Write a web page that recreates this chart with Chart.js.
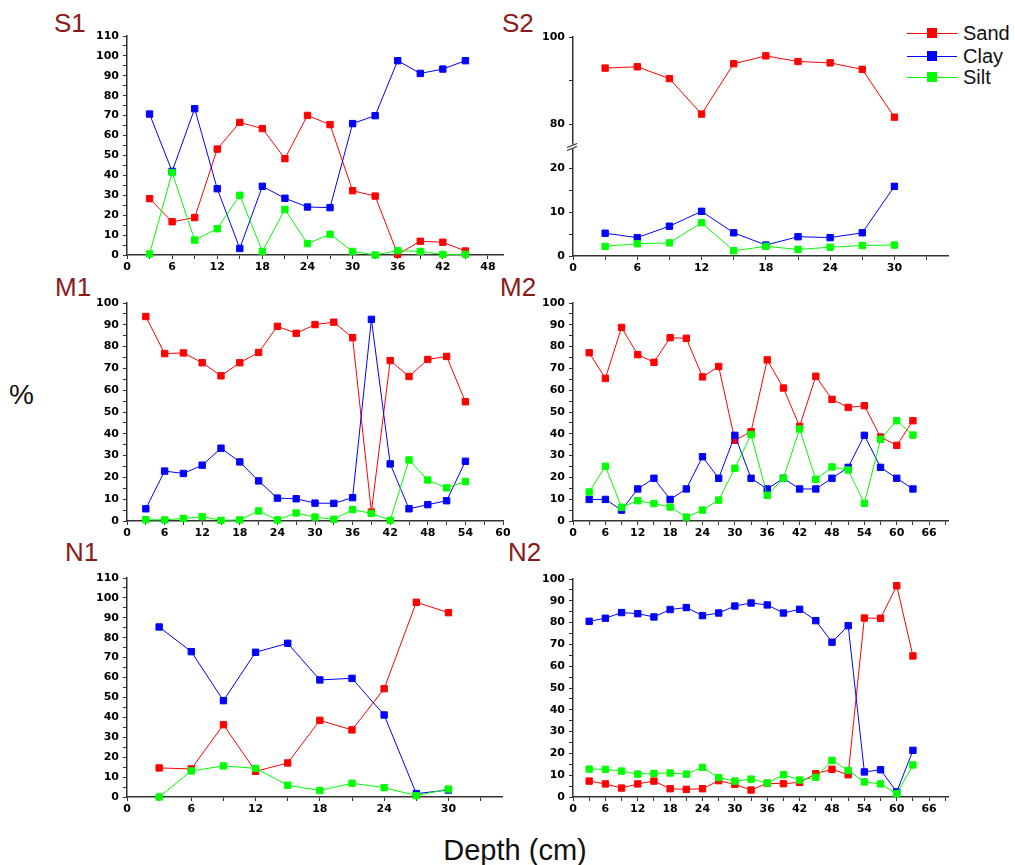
<!DOCTYPE html>
<html>
<head>
<meta charset="utf-8">
<script src="https://cdn.jsdelivr.net/npm/chart.js@4.4.1/dist/chart.umd.min.js"></script>
<style>
html,body{margin:0;padding:0;background:#fff;width:1015px;height:865px;overflow:hidden;position:relative;}
canvas{position:absolute;}
.ttl{position:absolute;font-family:"Liberation Sans",Arial,sans-serif;font-size:26px;line-height:26px;color:#8b1a1a;white-space:nowrap;}
.lab{position:absolute;font-family:"Liberation Sans",Arial,sans-serif;color:#111;white-space:nowrap;}
.lg{position:absolute;display:flex;align-items:center;height:20px;font-family:"Liberation Sans",Arial,sans-serif;font-size:20px;line-height:20px;color:#111;}
.lg .ln{position:relative;width:50px;height:1px;margin-right:6px;}
.lg .sq{position:absolute;left:20px;top:-5px;width:10px;height:10px;}
</style>
</head>
<body>
<div class="ttl" style="left:54px;top:10px;">S1</div>
<div class="ttl" style="left:502px;top:10px;">S2</div>
<div class="ttl" style="left:55px;top:274px;">M1</div>
<div class="ttl" style="left:500px;top:274px;">M2</div>
<div class="ttl" style="left:65px;top:539px;">N1</div>
<div class="ttl" style="left:508px;top:539px;">N2</div>
<div class="lab" style="left:9px;top:381px;font-size:28px;line-height:28px;">%</div>
<div class="lab" style="left:515px;top:836px;font-size:29px;line-height:29px;transform:translateX(-50%);">Depth (cm)</div>
<div id="legend"></div>

<canvas id="cS1"></canvas>
<canvas id="cS2"></canvas>
<canvas id="cM1"></canvas>
<canvas id="cM2"></canvas>
<canvas id="cN1"></canvas>
<canvas id="cN2"></canvas>

<script>
// ---- series definitions ----
const seriesNames = ['Sand', 'Clay', 'Silt'];
const seriesColors = ['#ff0000', '#0000ff', '#00ff00'];

// ---- S1 ----
const s1Depth = [3, 6, 9, 12, 15, 18, 21, 24, 27, 30, 33, 36, 39, 42, 45];
const s1Sand = [28.3, 16.7, 18.8, 53.2, 66.6, 63.5, 48.4, 70.1, 65.5, 32.3, 29.6, 0.3, 6.9, 6.4, 2.0];
const s1Clay = [70.8, 42.0, 73.5, 33.3, 3.3, 34.5, 28.5, 24.1, 23.8, 66.0, 70.0, 97.6, 91.2, 93.4, 97.6];
const s1Silt = [0.5, 41.4, 7.5, 13.2, 30.0, 1.8, 22.9, 5.7, 10.4, 1.8, 0.0, 2.2, 1.8, 0.3, 0.3];

// ---- S2 ----
const s2Depth = [3, 6, 9, 12, 15, 18, 21, 24, 27, 30];
const s2Sand = [92.9, 93.2, 90.5, 82.4, 93.9, 95.7, 94.4, 94.1, 92.6, 81.7];
const s2Clay = [5.2, 4.2, 6.8, 10.2, 5.3, 2.5, 4.4, 4.2, 5.3, 15.9];
const s2Silt = [2.2, 2.8, 3.0, 7.6, 1.2, 2.2, 1.5, 2.0, 2.4, 2.5];

// ---- M1 ----
const m1Depth = [3, 6, 9, 12, 15, 18, 21, 24, 27, 30, 33, 36, 39, 42, 45, 48, 51, 54];
const m1Sand = [93.8, 76.8, 77.1, 72.6, 66.6, 72.6, 77.3, 89.3, 86.1, 90.1, 91.2, 84.1, 4.1, 73.6, 66.3, 74.1, 75.5, 54.7];
const m1Clay = [5.6, 22.9, 21.8, 25.6, 33.4, 27.1, 18.4, 10.5, 10.2, 8.2, 8.1, 10.7, 92.5, 26.2, 5.6, 7.5, 9.3, 27.4];
const m1Silt = [0.6, 0.5, 1.2, 2.0, 0.3, 0.5, 4.6, 0.5, 3.7, 1.8, 0.8, 5.2, 3.5, 0.3, 28.0, 18.8, 15.2, 18.1];

// ---- M2 ----
const m2Depth = [3, 6, 9, 12, 15, 18, 21, 24, 27, 30, 33, 36, 39, 42, 45, 48, 51, 54, 57, 60, 63];
const m2Sand = [77.2, 65.4, 88.8, 76.3, 72.8, 84.1, 83.8, 66.1, 70.9, 37.0, 41.0, 73.9, 61.0, 43.4, 66.4, 55.8, 52.1, 52.9, 38.5, 34.7, 46.0];
const m2Clay = [9.9, 9.9, 5.0, 14.7, 19.6, 9.9, 14.7, 29.5, 19.6, 39.3, 19.6, 14.7, 19.6, 14.7, 14.7, 19.6, 24.6, 39.3, 24.6, 19.6, 14.7];
const m2Silt = [13.3, 25.1, 6.3, 9.3, 8.0, 6.4, 1.8, 5.0, 9.6, 24.2, 39.6, 11.8, 19.6, 42.2, 19.1, 24.8, 23.4, 8.1, 37.5, 46.0, 39.4];

// ---- N1 ----
const n1Depth = [3, 6, 9, 12, 15, 18, 21, 24, 27, 30];
const n1Sand = [14.6, 14.1, 36.3, 12.9, 17.1, 38.5, 33.7, 54.4, 97.8, 92.6];
const n1Clay = [85.4, 73.0, 48.4, 72.7, 77.2, 58.8, 59.6, 41.2, 1.7, 3.5];
const n1Silt = [0.0, 13.1, 15.6, 14.4, 5.9, 3.3, 6.9, 4.7, 0.7, 4.0];

// ---- N2 ----
const n2Depth = [3, 6, 9, 12, 15, 18, 21, 24, 27, 30, 33, 36, 39, 42, 45, 48, 51, 54, 57, 60, 63];
const n2Sand = [7.3, 6.0, 4.1, 6.0, 7.3, 3.8, 3.5, 3.8, 7.5, 5.8, 3.2, 6.3, 6.1, 6.7, 10.7, 12.7, 10.2, 82.1, 82.0, 96.9, 64.7];
const n2Clay = [80.6, 82.0, 84.6, 84.1, 82.6, 86.0, 86.9, 83.2, 84.4, 87.6, 89.0, 88.1, 84.4, 86.1, 80.9, 71.0, 78.6, 11.5, 12.5, 2.3, 21.4];
const n2Silt = [12.8, 12.7, 11.9, 10.5, 10.8, 11.0, 10.5, 13.6, 8.9, 7.3, 8.2, 6.4, 10.2, 7.8, 9.0, 16.8, 12.2, 6.9, 6.0, 1.5, 14.7];

// ---- helpers ----
const PADL = 70, PADT = 12, PADR = 14, PADB = 26;
const tickFont = { family: '"DejaVu Sans", sans-serif', size: 11, weight: 'bold' };
const AXIS_COLOR = '#333';

function makeDataset(idx, depth, vals, yAxisID) {
  const c = seriesColors[idx];
  return {
    label: seriesNames[idx],
    data: depth.map((d, i) => ({ x: d, y: vals[i] })),
    borderColor: c,
    backgroundColor: c,
    borderWidth: 1,
    pointStyle: 'rect',
    pointRadius: 4.5,
    pointHoverRadius: 4.5,
    pointBorderWidth: 1,
    pointBorderColor: c,
    pointBackgroundColor: c,
    tension: 0,
    clip: false,
    order: 2 - idx,
    yAxisID: yAxisID
  };
}

function xScale(max) {
  return {
    type: 'linear', min: 0, max: max, position: 'bottom',
    ticks: {
      stepSize: 3, includeBounds: false, autoSkip: false, maxRotation: 0, minRotation: 0,
      color: '#000', font: tickFont, padding: 2,
      callback: v => (v % 6 === 0 ? String(v) : '')
    },
    grid: { display: true, drawOnChartArea: false, drawTicks: true, tickLength: 4, tickColor: AXIS_COLOR, tickWidth: 1 },
    border: { display: true, color: AXIS_COLOR, width: 1.5 },
    afterFit: s => { s.height = PADB; }
  };
}

function yScale(min, max, step, labelEvery, extra) {
  return Object.assign({
    type: 'linear', min: min, max: max, position: 'left',
    ticks: {
      stepSize: step, includeBounds: false, autoSkip: false,
      color: '#000', font: tickFont, padding: 4,
      callback: v => (v % labelEvery === 0 ? String(v) : '')
    },
    grid: { display: true, drawOnChartArea: false, drawTicks: true, tickLength: 4, tickColor: AXIS_COLOR, tickWidth: 1 },
    border: { display: true, color: AXIS_COLOR, width: 1.5 },
    afterFit: s => { s.width = PADL; }
  }, extra || {});
}

function placeCanvas(id, box) {
  const cv = document.getElementById(id);
  const w = (box.r - box.l) + PADL + PADR;
  const h = (box.b - box.t) + PADT + PADB;
  cv.width = w; cv.height = h;
  cv.style.width = w + 'px'; cv.style.height = h + 'px';
  cv.style.left = (box.l - PADL) + 'px';
  cv.style.top = (box.t - PADT) + 'px';
  return cv;
}

function baseOptions(scales) {
  return {
    responsive: false,
    animation: false,
    devicePixelRatio: 1,
    layout: { autoPadding: false, padding: { left: 0, top: PADT, right: PADR, bottom: 0 } },
    plugins: { legend: { display: false }, tooltip: { enabled: false }, title: { display: false } },
    events: [],
    scales: scales
  };
}

function makePanel(id, box, depth, sand, clay, silt, xMax, yMax) {
  const cv = placeCanvas(id, box);
  return new Chart(cv, {
    type: 'line',
    data: {
      datasets: [
        makeDataset(0, depth, sand, 'y'),
        makeDataset(1, depth, clay, 'y'),
        makeDataset(2, depth, silt, 'y')
      ]
    },
    options: baseOptions({ x: xScale(xMax), y: yScale(0, yMax, 5, 10) })
  });
}

// ---- panels ----
makePanel('cS1', { l: 127, t: 36, r: 503, b: 255 }, s1Depth, s1Sand, s1Clay, s1Silt, 50, 110);
makePanel('cM1', { l: 127, t: 303, r: 503, b: 521 }, m1Depth, m1Sand, m1Clay, m1Silt, 60, 100);
makePanel('cM2', { l: 573, t: 303, r: 948, b: 521 }, m2Depth, m2Sand, m2Clay, m2Silt, 69.5, 100);
makePanel('cN1', { l: 127, t: 578, r: 502, b: 797 }, n1Depth, n1Sand, n1Clay, n1Silt, 35, 110);
makePanel('cN2', { l: 573, t: 579, r: 948, b: 797 }, n2Depth, n2Sand, n2Clay, n2Silt, 69.5, 100);

// S2 with broken y axis: two stacked y scales
const breakMark = {
  id: 'breakMark',
  afterDraw(chart) {
    const top = chart.scales.yTop, bot = chart.scales.yBot;
    const y = (top.bottom + bot.top) / 2;
    const x = chart.chartArea.left;
    const ctx = chart.ctx;
    ctx.save();
    ctx.fillStyle = '#fff';
    ctx.fillRect(x - 4, y - 2, 8, 4);
    ctx.strokeStyle = AXIS_COLOR;
    ctx.lineWidth = 1.2;
    ctx.beginPath();
    ctx.moveTo(x - 6, y + 1); ctx.lineTo(x + 4, y - 3);
    ctx.moveTo(x - 6, y + 4); ctx.lineTo(x + 4, y);
    ctx.stroke();
    ctx.restore();
  }
};
(function () {
  const cv = placeCanvas('cS2', { l: 573, t: 37, r: 948, b: 256 });
  new Chart(cv, {
    type: 'line',
    data: {
      datasets: [
        makeDataset(0, s2Depth, s2Sand, 'yTop'),
        makeDataset(1, s2Depth, s2Clay, 'yBot'),
        makeDataset(2, s2Depth, s2Silt, 'yBot')
      ]
    },
    options: baseOptions({
      x: xScale(35),
      yTop: yScale(75, 100, 10, 20, { stack: 's2', stackWeight: 1, weight: 1 }),
      yBot: yScale(0, 25, 5, 10, { stack: 's2', stackWeight: 1, weight: 0 })
    }),
    plugins: [breakMark]
  });
})();

// ---- legend (HTML, built from series arrays) ----
(function () {
  const holder = document.getElementById('legend');
  const rowY = [33, 56, 77];
  seriesNames.forEach((name, i) => {
    const row = document.createElement('div');
    row.className = 'lg';
    row.style.left = '907px';
    row.style.top = (rowY[i] - 10) + 'px';
    const ln = document.createElement('div');
    ln.className = 'ln';
    ln.style.background = seriesColors[i];
    const sq = document.createElement('div');
    sq.className = 'sq';
    sq.style.background = seriesColors[i];
    ln.appendChild(sq);
    const tx = document.createElement('span');
    tx.textContent = name;
    row.appendChild(ln);
    row.appendChild(tx);
    holder.appendChild(row);
  });
})();
</script>
</body>
</html>
